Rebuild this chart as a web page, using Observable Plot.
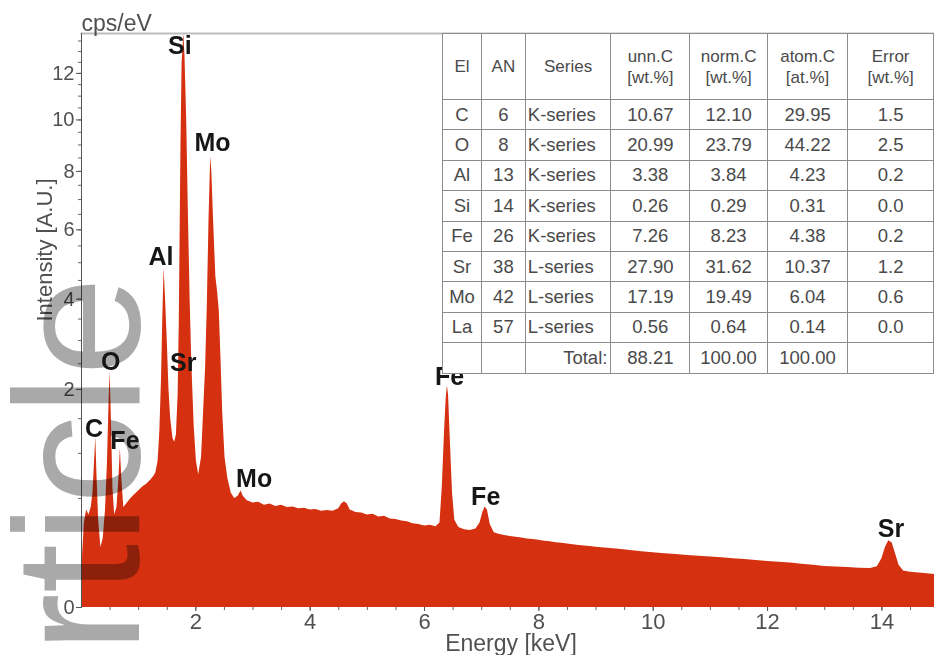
<!DOCTYPE html>
<html><head><meta charset="utf-8">
<script src="https://cdn.jsdelivr.net/npm/d3@7"></script>
<script src="https://cdn.jsdelivr.net/npm/@observablehq/plot@0.6"></script>
<style>
html,body{margin:0;padding:0;background:#fff;overflow:hidden}
#wrap{position:relative;width:934px;height:655px;overflow:hidden;font-family:"Liberation Sans",Arial,sans-serif}
#tbl{position:absolute;left:442px;top:33px;border-collapse:collapse;table-layout:fixed;background:#fff;color:#4a4a4a;font-size:18.5px}
#tbl td,#tbl th{border:1.5px solid #8c8c8c;padding:0;text-align:center;font-weight:normal;white-space:nowrap;box-sizing:border-box}
#tbl th{height:66px;font-size:17px;line-height:21px}
#tbl td{height:30.4px}
#tbl td.ser{text-align:left;padding-left:2px}
#tbl td.tot{text-align:right;padding-right:3px}
</style></head><body><div id="wrap"><div id="chart"></div><table id="tbl"></table></div>
<script>
// ---- spectrum (energy keV, intensity cps/eV) ----
const energy = [
 0.00,0.02,0.05,0.09,0.13,0.17,0.20,0.225,0.25,0.27,0.30,0.34,0.38,0.42,0.455,0.48,0.50,0.52,0.55,0.58,
 0.62,0.65,0.68,0.705,0.74,0.79,0.85,0.92,1.00,1.07,1.14,1.21,1.26,1.30,1.34,1.37,1.40,1.42,1.445,1.47,
 1.50,1.53,1.56,1.60,1.63,1.66,1.69,1.71,1.74,1.76,1.79,1.81,1.84,1.87,1.90,1.93,1.97,2.01,2.05,2.10,
 2.13,2.17,2.20,2.23,2.26,2.28,2.31,2.35,2.38,2.41,2.44,2.47,2.51,2.56,2.62,2.68,2.74,2.79,2.83,2.90,
 3.0,3.1,3.2,3.3,3.4,3.5,3.6,3.7,3.8,3.9,4.0,4.1,4.2,4.3,4.4,4.5,4.55,4.6,4.65,4.7,
 4.8,4.9,5.0,5.1,5.2,5.3,5.4,5.5,5.6,5.7,5.8,5.9,6.0,6.1,6.2,6.27,6.31,6.35,6.38,6.40,
 6.42,6.45,6.49,6.53,6.6,6.7,6.8,6.9,6.97,7.02,7.06,7.10,7.15,7.22,7.3,7.4,7.5,7.6,7.7,7.8,
 7.9,8.0,8.1,8.2,8.3,8.4,8.5,8.6,8.7,8.8,8.9,9.0,9.2,9.4,9.6,9.8,10.0,10.2,10.4,10.6,
 10.8,11.0,11.2,11.4,11.6,11.8,12.0,12.2,12.4,12.6,12.8,13.0,13.2,13.4,13.6,13.8,13.92,14.0,14.06,14.12,
 14.18,14.24,14.30,14.38,14.5,14.7,14.92
];
const intensity = [
 0.00,0.12,0.30,0.40,0.36,0.42,0.55,0.85,1.22,0.75,0.32,0.15,0.20,0.40,0.90,1.7,2.35,1.6,0.60,0.36,
 0.42,0.65,1.06,0.70,0.42,0.45,0.49,0.53,0.57,0.61,0.64,0.68,0.72,0.76,0.9,1.3,2.2,3.4,4.85,4.0,
 3.0,2.0,1.5,1.2,1.15,1.25,1.9,3.4,9.0,12.5,13.86,12.8,10.0,6.5,4.0,2.5,1.4,0.9,0.74,0.95,
 1.5,2.4,3.8,6.3,8.55,8.0,6.3,4.6,4.2,3.7,2.6,1.6,0.95,0.70,0.55,0.50,0.52,0.57,0.52,0.48,
 0.46,0.465,0.44,0.45,0.43,0.44,0.42,0.425,0.41,0.415,0.40,0.405,0.39,0.395,0.39,0.41,0.45,0.47,0.45,0.40,
 0.38,0.375,0.36,0.365,0.345,0.35,0.33,0.325,0.315,0.31,0.295,0.29,0.28,0.285,0.275,0.30,0.60,1.30,1.85,2.07,
 1.90,1.20,0.55,0.32,0.27,0.255,0.25,0.26,0.30,0.38,0.425,0.40,0.29,0.235,0.225,0.218,0.212,0.207,0.203,0.197,
 0.194,0.19,0.185,0.182,0.177,0.174,0.169,0.166,0.162,0.159,0.156,0.153,0.148,0.143,0.137,0.131,0.126,0.122,0.118,0.114,
 0.110,0.107,0.104,0.100,0.097,0.093,0.089,0.086,0.083,0.079,0.075,0.071,0.069,0.067,0.065,0.064,0.07,0.10,0.15,0.188,
 0.175,0.12,0.075,0.056,0.052,0.049,0.046
];
// ---- peak labels ----
const peakNames = ["Si","Mo","Al","Sr","O","C","Fe","Mo","Fe","Fe","Sr"];
const peakEnergy = [1.72,2.29,1.39,1.78,0.51,0.22,0.76,3.02,6.44,7.07,14.16];
const peakIntensity = [13.24,9.07,5.18,2.51,2.54,1.34,1.17,0.69,2.23,0.51,0.26];
// ---- axes ----
const xTicks = [2,4,6,8,10,12,14];
const yTicks = [0,2,4,6,8,10,12];
const xMinor = d3.range(0.5, 14.92, 0.5);
const yMinor = d3.range(0.5, 13.86, 0.5);
// ---- quantification table ----
const elements = ["C","O","Al","Si","Fe","Sr","Mo","La"];
const atomicNumbers = [6,8,13,14,26,38,42,57];
const seriesNames = ["K-series","K-series","K-series","K-series","K-series","L-series","L-series","L-series"];
const unnC = ["10.67","20.99","3.38","0.26","7.26","27.90","17.19","0.56"];
const normC = ["12.10","23.79","3.84","0.29","8.23","31.62","19.49","0.64"];
const atomC = ["29.95","44.22","4.23","0.31","4.38","10.37","6.04","0.14"];
const errorWt = ["1.5","2.5","0.2","0.0","0.2","1.2","0.6","0.0"];
const totals = ["88.21","100.00","100.00"];
const headers = ["El","AN","Series","unn.C<br>[wt.%]","norm.C<br>[wt.%]","atom.C<br>[at.%]","Error<br>[wt.%]"];

const spectrum = energy.map((e, i) => ({energy: e, intensity: intensity[i]}));
const peaks = peakNames.map((n, i) => ({name: n, energy: peakEnergy[i], intensity: peakIntensity[i]}));
const font = "Liberation Sans, Arial, sans-serif";

const chart = Plot.plot({
  width: 934, height: 655,
  marginLeft: 81, marginRight: 0, marginTop: 33, marginBottom: 48,
  style: {fontFamily: font, background: "#fff", color: "#505050", overflow: "visible"},
  x: {domain: [0, 14.92], label: null},
  y: {type: "sqrt", domain: [0, 13.86], label: null},
  marks: [
    Plot.areaY(spectrum, {x: "energy", y: "intensity", fill: "#d5300f", curve: "linear"}),
    Plot.frame({anchor: "top", stroke: "#bdbdbd", strokeWidth: 2}),
    Plot.frame({anchor: "left", stroke: "#555"}),
    Plot.axisX(xMinor, {tickSize: 3, text: null, stroke: "#666", label: null}),
    Plot.axisX(xTicks, {tickSize: 4, tickPadding: 2, fontSize: 22, stroke: "#555", fill: "#505050", label: null}),
    Plot.axisY(yMinor, {tickSize: 3, text: null, stroke: "#666", label: null}),
    Plot.axisY(yTicks, {tickSize: 5, tickPadding: 2, fontSize: 20, stroke: "#555", fill: "#505050", label: null}),
    Plot.text(["cps/eV"], {frameAnchor: "top-left", textAnchor: "start", lineAnchor: "bottom", dy: -3, fontSize: 23, fill: "#505050"}),
    Plot.text(["Energy [keV]"], {frameAnchor: "bottom", lineAnchor: "bottom", dx: 3, dy: 43, fontSize: 23, fill: "#505050"}),
    Plot.text(["Intensity [A.U.]"], {frameAnchor: "left", rotate: -90, dx: -37, dy: 1, fontSize: 22, fill: "#505050"}),
    Plot.text(["rticle"], {frameAnchor: "bottom-left", textAnchor: "start", lineAnchor: "bottom", rotate: -90, dx: 57, dy: 45, fontSize: 178, fill: "#a9a9a9", mixBlendMode: "multiply"}),
    Plot.text(peaks, {x: "energy", y: "intensity", text: "name", fontSize: 25, fontWeight: "bold", fill: "#161616"})
  ]
});
document.getElementById("chart").appendChild(chart);

// table
const tbl = document.getElementById("tbl");
const widths = [41,47,88,84,81,84,92];
let html = "<colgroup>" + widths.map(w => `<col style="width:${w}px">`).join("") + "</colgroup>";
html += "<tr>" + headers.map(h => `<th>${h}</th>`).join("") + "</tr>";
elements.forEach((el, i) => {
  html += `<tr><td>${el}</td><td>${atomicNumbers[i]}</td><td class="ser">${seriesNames[i]}</td><td>${unnC[i]}</td><td>${normC[i]}</td><td>${atomC[i]}</td><td>${errorWt[i]}</td></tr>`;
});
html += `<tr><td></td><td></td><td class="tot">Total:</td><td>${totals[0]}</td><td>${totals[1]}</td><td>${totals[2]}</td><td></td></tr>`;
tbl.innerHTML = html;
</script></body></html>
